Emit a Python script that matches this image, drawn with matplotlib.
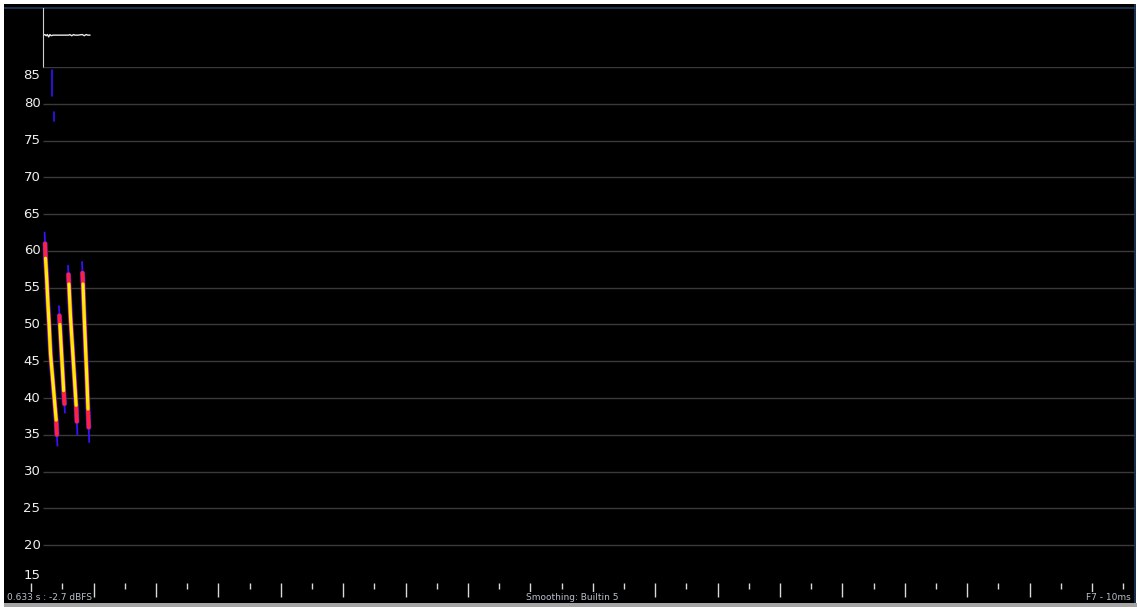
import matplotlib.pyplot as plt
import numpy as np

# pitch traces (time in s, pitch in semitone units)
s1_t = [0.0715, 0.0722, 0.073, 0.075, 0.077, 0.079, 0.081, 0.084, 0.087, 0.090, 0.0912, 0.092]
s1_f = [62.5, 61.0, 59.0, 56.0, 52.5, 49.5, 46.0, 43.0, 40.0, 37.0, 35.0, 33.5]
s2_t = [0.0945, 0.0952, 0.096, 0.098, 0.100, 0.102, 0.1033, 0.104]
s2_f = [52.5, 51.2, 50.0, 47.0, 44.0, 41.0, 39.2, 38.0]
s3_t = [0.109, 0.1097, 0.1105, 0.113, 0.116, 0.119, 0.122, 0.1232, 0.124]
s3_f = [58.0, 56.8, 55.5, 51.0, 47.0, 43.0, 39.0, 36.8, 35.0]
s4_t = [0.1315, 0.1322, 0.133, 0.135, 0.137, 0.139, 0.141, 0.1422, 0.143]
s4_f = [58.5, 57.0, 55.5, 51.0, 47.0, 43.0, 38.5, 36.0, 34.0]
strokes = [(s1_t, s1_f), (s2_t, s2_f), (s3_t, s3_f), (s4_t, s4_f)]

# faint blue fragments up high
blips = [([0.083, 0.083], [84.6, 81.0]), ([0.0865, 0.0865], [78.9, 77.6])]

# waveform strip
wave_t = [0.069, 0.072, 0.074, 0.076, 0.078, 0.080, 0.082, 0.085, 0.090, 0.100,
          0.110, 0.112, 0.115, 0.118, 0.120, 0.125, 0.132, 0.135, 0.138, 0.141, 0.144]
wave_v = [0.0, 0.02, -0.02, 0.02, -0.06, 0.02, -0.02, 0.0, 0.0, 0.0,
          0.0, 0.02, -0.02, 0.02, 0.0, 0.0, 0.02, -0.02, 0.02, 0.0, 0.0]

yticks = [15, 20, 25, 30, 35, 40, 45, 50, 55, 60, 65, 70, 75, 80, 85]
tick_times = np.arange(1, 37) * 0.05

W, H = 1137, 609
PXS = 624.0  # pixels per second


def frac(l, t, r, b):
    return [l / W, 1 - b / H, (r - l) / W, (b - t) / H]


fig = plt.figure(figsize=(W / 100, H / 100), dpi=100, facecolor='white')

# black background panel
bg = fig.add_axes(frac(4, 4, 1136, 603))
bg.set_facecolor('black')
bg.set_xticks([])
bg.set_yticks([])
for s in bg.spines.values():
    s.set_visible(False)
bg.set_xlim(4, 1136)
bg.set_ylim(603, 4)
bg.axhline(8, color='#1d3a5e', lw=1.2)
bg.axvline(1135, color='#1d3a5e', lw=1.2)

# waveform strip
wv = fig.add_axes(frac(43, 8, 1135, 67))
wv.patch.set_alpha(0)
wv.set_xlim(43 / PXS, 1135 / PXS)
wv.set_ylim(-1.08, 0.92)
wv.set_xticks([])
wv.set_yticks([])
for k, s in wv.spines.items():
    s.set_visible(k == 'left')
wv.spines['left'].set_color('#d0d0d0')
wv.plot(wave_t, wave_v, color='#e8e8e8', lw=1.0)

# main pitch panel
ax = fig.add_axes(frac(4, 67, 1135, 603))
ax.patch.set_alpha(0)
ax.set_xlim(4 / PXS, 1135 / PXS)
ax.set_ylim(12.13, 85.0)
ax.set_xticks([])
ax.set_yticks([])
for s in ax.spines.values():
    s.set_visible(False)

ax.hlines(yticks[1:], 43 / PXS, 1135 / PXS, color='#3a3a3a', lw=1.0, zorder=1)

for v in yticks:
    yy = v
    if v == 85:
        yy = v - 1.2
    elif v == 15:
        yy = v + 0.9
    ax.text(40.5 / PXS, yy, str(v), color='#f0f0f0', fontsize=9.5,
            ha='right', va='center')

for t, f in blips:
    ax.plot(t, f, color='#3a10ff', lw=1.2, solid_capstyle='round', zorder=3)

for t, f in strokes:
    ax.plot(t, f, color='#3a10ff', lw=1.3, solid_capstyle='round', zorder=3)
    ax.plot(t[1:-1], f[1:-1], color='#3a10ff', lw=3.6, solid_capstyle='round', zorder=3)
    ax.plot(t[1:-1], f[1:-1], color='#ff2238', lw=2.9, solid_capstyle='round', zorder=4)
    ax.plot(t[2:-2], f[2:-2], color='#ffee00', lw=2.3, solid_capstyle='round', zorder=5)

# time ticks along the bottom
xt = ax.get_xaxis_transform()
for i, tt in enumerate(tick_times):
    low = 597 if (i + 1) % 2 == 1 else 589
    ax.vlines(tt, (603 - low) / 536, (603 - 583) / 536, transform=xt,
              color='#d8d8d8', lw=1.0, zorder=2)

# status texts
box = dict(facecolor='black', edgecolor='none', pad=0.8)
ty = 1 - 597.5 / H
fig.text(7 / W, ty, '0.633 s : -2.7 dBFS', color='#b8c0cc', fontsize=6.5,
         ha='left', va='center', bbox=box)
fig.text(572 / W, ty, 'Smoothing: Builtin 5', color='#b8c0cc', fontsize=6.5,
         ha='center', va='center', bbox=box)
fig.text(1131 / W, ty, 'F7 - 10ms', color='#b8c0cc', fontsize=6.5,
         ha='right', va='center', bbox=box)

# grey status bar
bar = fig.add_axes(frac(4, 603, 1137, 607))
bar.set_facecolor('#a4a4a4')
bar.set_xticks([])
bar.set_yticks([])
for s in bar.spines.values():
    s.set_visible(False)

fig.savefig('out.png', dpi=100, facecolor='white')
